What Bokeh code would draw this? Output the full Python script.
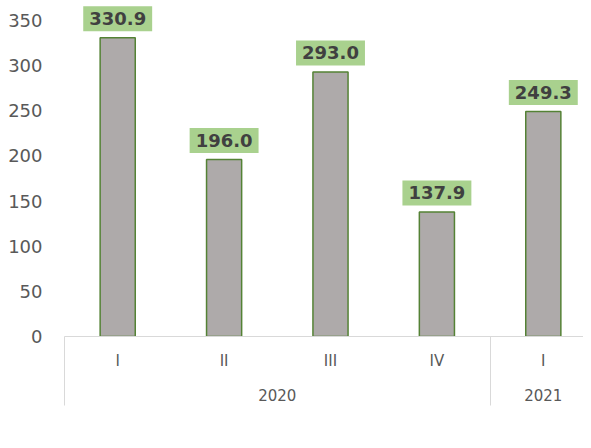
from bokeh.plotting import figure
from bokeh.models import (Range1d, FixedTicker, LinearAxis, Label, Legend, LegendItem,
                          ColumnDataSource, SingleIntervalTicker)
from bokeh.embed import file_html
from bokeh.resources import INLINE

quarters = ["I", "II", "III", "IV", "I"]
years = ["2020", "2020", "2020", "2020", "2021"]
values = [330.9, 196.0, 293.0, 137.9, 249.3]
series_name = "Saldo de cuenta corriente (positivo:superávit)"

FONT = "DejaVu Sans"
GRAY_TXT = "#595959"
SEP = "#d9d9d9"

n = len(values)
xs = [i + 0.5 for i in range(n)]

# group centres and separators for the year level
groups = []
for i, y in enumerate(years):
    if not groups or groups[-1][0] != y:
        groups.append([y, i, i + 1])
    else:
        groups[-1][2] = i + 1
group_centers = [(g[1] + g[2]) / 2 for g in groups]
separators = [g[1] for g in groups] + [groups[-1][2]]

src = ColumnDataSource(dict(x=xs, top=values))

p = figure(frame_width=519, frame_height=336, output_backend="svg", toolbar_location=None,
           x_range=Range1d(0, 519 / 106.4), y_range=Range1d(0, 372.1),
           min_border_left=64, min_border_right=0, min_border_top=0, min_border_bottom=0)
p.outline_line_color = None
p.xgrid.visible = False
p.ygrid.visible = False
p.background_fill_color = "white"
p.border_fill_color = "white"

r = p.vbar(x="x", top="top", width=0.33, source=src, fill_color="#aeaaaa",
           line_color="#548235", line_width=1.5)

# y axis
ya = p.yaxis[0]
ya.ticker = SingleIntervalTicker(interval=50)
ya.axis_line_color = None
ya.major_tick_line_color = None
ya.minor_tick_line_color = None
ya.major_label_text_font = FONT
ya.major_label_text_font_size = "18px"
ya.major_label_text_color = GRAY_TXT
ya.major_label_standoff = 16

# x axis level 1 (quarters) with separators as minor ticks
xa = p.xaxis[0]
xa.ticker = FixedTicker(ticks=xs, minor_ticks=separators)
xa.major_label_overrides = {x: q for x, q in zip(xs, quarters)}
xa.axis_line_color = SEP
xa.major_tick_line_color = None
xa.minor_tick_line_color = SEP
xa.minor_tick_in = -69
xa.minor_tick_out = 0
xa.major_label_text_font = FONT
xa.major_label_text_font_size = "15px"
xa.major_label_text_color = GRAY_TXT
xa.major_label_standoff = 9

# x axis level 2 (years)
xb = LinearAxis(ticker=FixedTicker(ticks=group_centers),
                major_label_overrides={c: g[0] for c, g in zip(group_centers, groups)})
xb.axis_line_color = None
xb.major_tick_line_color = None
xb.minor_tick_line_color = None
xb.major_label_text_font = FONT
xb.major_label_text_font_size = "15px"
xb.major_label_text_color = GRAY_TXT
xb.major_label_standoff = 10
p.add_layout(xb, "below")

# data labels
for x, v in zip(xs, values):
    p.add_layout(Label(x=x, y=v, text=f"{v:.1f}", text_align="center",
                       text_baseline="middle", y_offset=19,
                       text_font=FONT, text_font_style="bold", text_font_size="18px",
                       text_color="#404040", background_fill_color="#a9d18e",
                       padding=dict(left=6, right=6, top=6, bottom=6)))

legend = Legend(items=[LegendItem(label=series_name, renderers=[r])],
                location="center", orientation="horizontal",
                border_line_color=None, background_fill_alpha=0,
                label_text_font=FONT, label_text_font_size="15.5px",
                label_text_color=GRAY_TXT, glyph_width=11, glyph_height=11,
                padding=3, margin=6, label_standoff=5)
p.add_layout(legend, "below")

open("out.html", "w").write(file_html(p, INLINE))
